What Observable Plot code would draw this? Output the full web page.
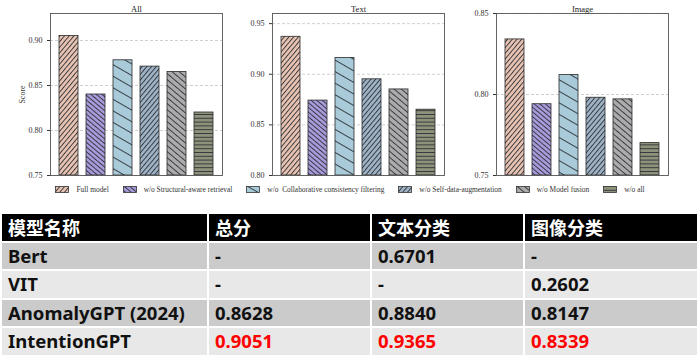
<!DOCTYPE html>
<html><head><meta charset="utf-8">
<script src="https://cdn.jsdelivr.net/npm/d3@7"></script>
<script src="https://cdn.jsdelivr.net/npm/@observablehq/plot@0.6"></script>
<style>
html,body{margin:0;padding:0;background:#fff;}
#root{position:relative;width:700px;height:358px;overflow:hidden;background:#fff;}
.pl{position:absolute;top:0;}
.legend{position:absolute;left:0;top:183px;width:700px;height:12px;display:flex;justify-content:center;align-items:center;
  font-family:"Liberation Serif","Times New Roman",serif;font-size:7.4px;color:#333;white-space:pre;}
.legend .it{display:flex;align-items:center;margin:0 7px;}
.legend svg{margin-right:7px;}
table.tb{position:absolute;left:0;top:212px;border-collapse:separate;border-spacing:2px;
  font-family:"Noto Sans","Noto Sans CJK SC",sans-serif;font-weight:700;}
table.tb td{padding:0 0 0 6px;height:26.5px;line-height:26.5px;font-size:18.5px;color:#111;white-space:nowrap;overflow:hidden;box-sizing:border-box;}
table.tb tr.hd td{background:#000;color:#fff;font-size:18px;font-family:"Noto Sans CJK SC",sans-serif;}
table.tb tr.r0 td{background:#cbcbcb;}
table.tb tr.r1 td{background:#e8e8e8;}
table.tb td.red{color:#ff0000;}
</style></head><body>
<svg width="0" height="0" style="position:absolute"><defs id="defs"></defs></svg>
<div id="root"></div>
<script>
// ---- chart data ----
const variants = ["Full model","w/o Structural-aware retrieval","w/o  Collaborative consistency filtering","w/o Self-data-augmentation","w/o Model fusion","w/o all"];
const panelTitles = ["All","Text","Image"];
const allScores = [0.905,0.840,0.878,0.871,0.865,0.820];
const textScores = [0.937,0.874,0.916,0.895,0.885,0.865];
const imageScores = [0.834,0.794,0.812,0.798,0.797,0.770];
const allTicks = [0.75,0.80,0.85,0.90];
const textTicks = [0.80,0.85,0.90,0.95];
const imageTicks = [0.75,0.80,0.85];

// ---- table data ----
const tableHeader = ["模型名称","总分","文本分类","图像分类"];
const models = ["Bert","VIT","AnomalyGPT (2024)","IntentionGPT"];
const totalCol = ["-","-","0.8628","0.9051"];
const textCol = ["0.6701","-","0.8840","0.9365"];
const imageCol = ["-","0.2602","0.8147","0.8339"];
const bestRow = 3;

// ---- styles ----
const fillColors = ["#e8c3b1","#a99bdb","#a9cbd9","#9fb3c6","#ababab","#8d927b"];
const hatchRot = [40,-50,-60,40,-50,90];
const hatchGap = [3.6,3.6,10,3.6,4.6,3.8];
const SERIF = '"Liberation Serif","Times New Roman",serif';

const defs = document.getElementById("defs");
const NS = "http://www.w3.org/2000/svg";
fillColors.forEach((c,i)=>{
  const p = document.createElementNS(NS,"pattern");
  p.setAttribute("id","hatch"+i);
  p.setAttribute("patternUnits","userSpaceOnUse");
  p.setAttribute("width",hatchGap[i]);
  p.setAttribute("height",hatchGap[i]);
  p.setAttribute("patternTransform",`rotate(${hatchRot[i]})`);
  const r = document.createElementNS(NS,"rect");
  r.setAttribute("x",-1);r.setAttribute("y",-1);
  r.setAttribute("width",hatchGap[i]+2);r.setAttribute("height",hatchGap[i]+2);
  r.setAttribute("fill",c);
  p.appendChild(r);
  const l = document.createElementNS(NS,"line");
  l.setAttribute("x1",0.5);l.setAttribute("x2",0.5);
  l.setAttribute("y1",-1);l.setAttribute("y2",hatchGap[i]+1);
  l.setAttribute("stroke","#2e3138");l.setAttribute("stroke-width",0.9);
  p.appendChild(l);
  defs.appendChild(p);
});
const patternUrls = variants.map((_,i)=>`url(#hatch${i})`);

function panel(title, scores, ticks, domain, box, label) {
  const data = variants.map((v,i)=>({variant:v, score:scores[i]}));
  return Plot.plot({
    width: box.w, height: 178,
    marginLeft: box.ml, marginRight: box.mr, marginTop: 13, marginBottom: 3,
    style: {fontFamily: SERIF, fontSize: "8px", color: "#333", background: "transparent", overflow: "visible"},
    x: {type: "band", domain: variants, paddingInner: 0.3, paddingOuter: 0.28, axis: null},
    y: {domain: domain},
    color: {type: "ordinal", domain: variants, range: patternUrls},
    marks: [
      Plot.gridY(ticks, {stroke: "#c4c4c4", strokeOpacity: 1, strokeDasharray: "3,2", strokeWidth: 0.8}),
      Plot.barY(data, {x: "variant", y1: domain[0], y2: "score", fill: "variant", stroke: "#2a2a2a", strokeWidth: 0.8}),
      Plot.axisY(ticks, {tickFormat: d3.format(".2f"), tickSize: 3, tickPadding: 5,
        label: label, labelAnchor: "center", labelArrow: "none", labelOffset: 31, fontSize: 8}),
      Plot.frame({stroke: "#555", strokeWidth: 0.9}),
      Plot.text([title], {frameAnchor: "top", dy: -8, fontSize: 8.5, fill: "#222"})
    ]
  });
}

const root = document.getElementById("root");
const boxes = [
  {left:0, w:230, ml:50, mr:8},
  {left:230, w:220, ml:42, mr:6},
  {left:460, w:240, ml:36, mr:32}
];
const specs = [
  [panelTitles[0], allScores, allTicks, [0.75,0.93], "Score"],
  [panelTitles[1], textScores, textTicks, [0.80,0.96], null],
  [panelTitles[2], imageScores, imageTicks, [0.75,0.85], null]
];
specs.forEach((s,i)=>{
  const d = document.createElement("div");
  d.className = "pl";
  d.style.left = boxes[i].left + "px";
  d.appendChild(panel(s[0], s[1], s[2], s[3], boxes[i], s[4]));
  root.appendChild(d);
});

// legend
const lg = document.createElement("div");
lg.className = "legend";
variants.forEach((v,i)=>{
  const it = document.createElement("div");
  it.className = "it";
  it.innerHTML = `<svg width="14" height="7"><rect x="0.5" y="0.5" width="13" height="6" fill="${patternUrls[i]}" stroke="#333" stroke-width="0.8"/></svg><span>${v}</span>`;
  lg.appendChild(it);
});
root.appendChild(lg);

// table
const tb = document.createElement("table");
tb.className = "tb";
const widths = [205,161,151,172];
let html = '<tr class="hd">' + tableHeader.map((h,j)=>`<td style="width:${widths[j]}px">${h}</td>`).join("") + "</tr>";
models.forEach((m,i)=>{
  const cls = i === bestRow ? ' class="red"' : "";
  html += `<tr class="r${i%2}"><td>${m}</td><td${cls}>${totalCol[i]}</td><td${cls}>${textCol[i]}</td><td${cls}>${imageCol[i]}</td></tr>`;
});
tb.innerHTML = html;
root.appendChild(tb);
</script>
</body></html>
